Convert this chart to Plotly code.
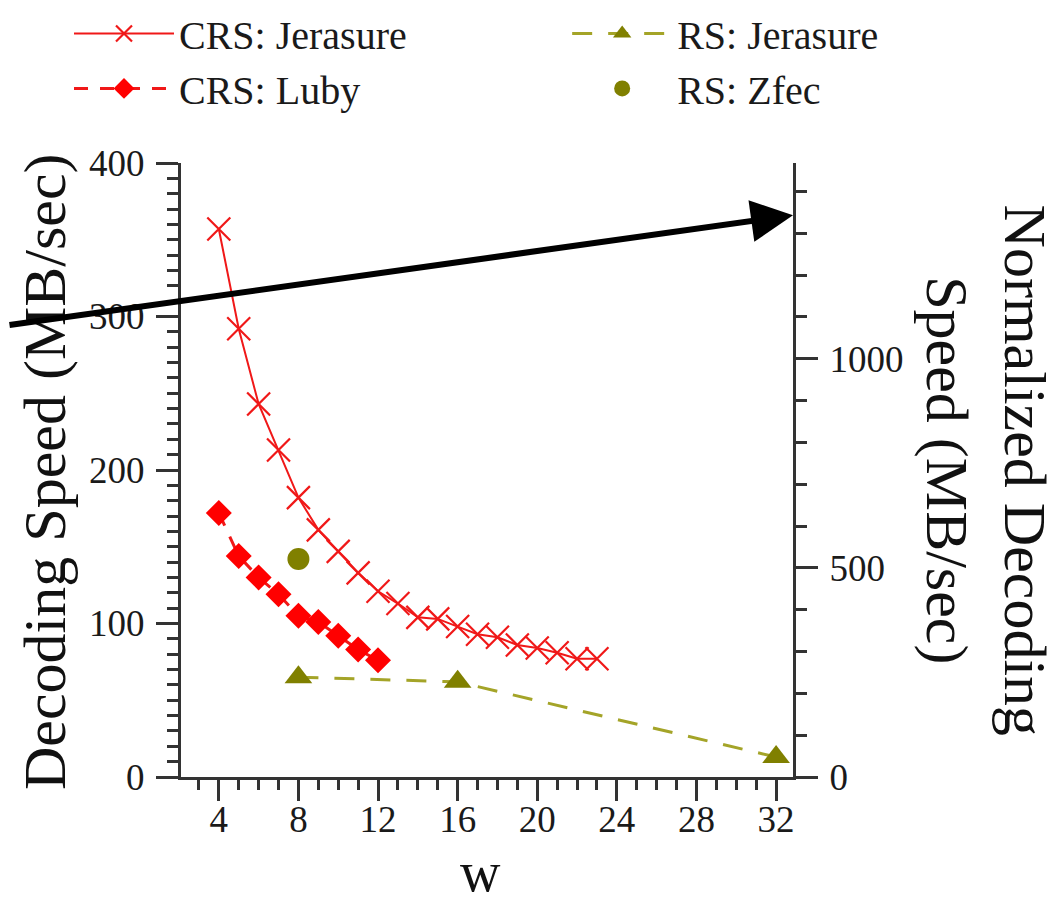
import plotly.graph_objects as go

# ---- data ----
w_crs_jer = [4, 5, 6, 7, 8, 9, 10, 11, 12, 13, 14, 15, 16, 17, 18, 19, 20, 21, 22, 23]
crs_jerasure = [357, 292, 243, 213, 182, 161, 147, 133, 121, 113, 104, 103, 98, 93, 91, 86, 84, 81, 77, 77]

w_crs_luby = [4, 5, 6, 7, 8, 9, 10, 11, 12]
crs_luby = [172, 144, 130, 119, 105, 101, 92, 83, 76]

w_rs_jer = [8, 16, 32]
rs_jerasure = [65, 62, 13]

w_rs_zfec = [8]
rs_zfec = [142]

x_ticks = [4, 8, 12, 16, 20, 24, 28, 32]
y_ticks = [0, 100, 200, 300, 400]
y2_ticks = [0, 500, 1000]

RED = "#f01818"
OLIVE = "#808000"
OLIVE_LINE = "#a4a428"
AX = "#333333"
FONT = "Liberation Serif"
TXT = "#1a1a1a"

fig = go.Figure()

fig.add_trace(go.Scatter(
    x=w_crs_jer, y=crs_jerasure, name="CRS: Jerasure", mode="lines+markers",
    line=dict(color=RED, width=2),
    marker=dict(symbol="x-thin-open", size=23, line=dict(color=RED, width=2.2), color=RED),
    legend="legend"))
fig.add_trace(go.Scatter(
    x=w_crs_luby, y=crs_luby, name="CRS: Luby", mode="lines+markers",
    line=dict(color=RED, width=3, dash="14px,12px"),
    marker=dict(symbol="diamond", size=20, color="#ff0000"),
    legend="legend"))
fig.add_trace(go.Scatter(
    x=w_rs_jer, y=rs_jerasure, name="RS: Jerasure", mode="lines+markers",
    line=dict(color=OLIVE_LINE, width=3, dash="20px,16px"),
    marker=dict(symbol="triangle-up", size=24, color=OLIVE),
    legend="legend2"))
fig.add_trace(go.Scatter(
    x=w_rs_zfec, y=rs_zfec, name="RS: Zfec", mode="markers",
    marker=dict(symbol="circle", size=22, color=OLIVE),
    legend="legend2"))
# empty trace so that the right-hand axis is drawn
fig.add_trace(go.Scatter(x=[], y=[], yaxis="y2", showlegend=False,
                         hoverinfo="skip", mode="markers"))

fig.update_layout(
    width=1057, height=908,
    margin=dict(l=173, r=272, t=155, b=139, autoexpand=False),
    paper_bgcolor="white", plot_bgcolor="white",
    font=dict(family=FONT, size=37, color=TXT),
    showlegend=True,
    legend=dict(x=-0.183, y=1.264, xref="paper", yref="paper",
                xanchor="left", yanchor="top", bgcolor="rgba(0,0,0,0)",
                font=dict(family=FONT, size=40, color=TXT),
                itemwidth=100, tracegroupgap=0),
    legend2=dict(x=0.631, y=1.264, xref="paper", yref="paper",
                 xanchor="left", yanchor="top", bgcolor="rgba(0,0,0,0)",
                 font=dict(family=FONT, size=40, color=TXT),
                 itemwidth=100, tracegroupgap=0),
    xaxis=dict(range=[2.1, 32.85], tickvals=x_ticks, ticks="outside", ticklen=21,
               tickwidth=3, tickcolor=AX, showline=True, linecolor=AX, linewidth=3,
               showgrid=False, zeroline=False, ticklabelstandoff=-13,
               tickfont=dict(family=FONT, size=37, color=TXT),
               minor=dict(dtick=1, tick0=0, ticks="outside", ticklen=10,
                          tickwidth=3, tickcolor=AX, showgrid=False)),
    yaxis=dict(range=[0, 400], tickvals=y_ticks, ticks="outside", ticklen=22,
               tickwidth=3, tickcolor=AX, showline=True, linecolor=AX, linewidth=3,
               showgrid=False, zeroline=False, ticklabelstandoff=4,
               tickfont=dict(family=FONT, size=37, color=TXT),
               minor=dict(dtick=10, tick0=0, ticks="outside", ticklen=11,
                          tickwidth=3, tickcolor=AX, showgrid=False)),
    yaxis2=dict(range=[0, 1468], tickvals=y2_ticks, overlaying="y", side="right",
                ticks="outside", ticklen=22, tickwidth=3, tickcolor=AX,
                showline=True, linecolor=AX, linewidth=3, showgrid=False,
                zeroline=False, ticklabelstandoff=4,
                tickfont=dict(family=FONT, size=37, color=TXT),
                minor=dict(dtick=100, tick0=0, ticks="outside", ticklen=11,
                           tickwidth=3, tickcolor=AX, showgrid=False)),
)

annotations = [
    dict(text="Decoding Speed (MB/sec)", xref="paper", yref="paper",
         x=-0.222, y=0.497, textangle=-90, showarrow=False,
         font=dict(family=FONT, size=60, color="#111111"),
         xanchor="center", yanchor="middle"),
    dict(text="Normalized Decoding<br>Speed (MB/sec)", xref="paper", yref="paper",
         x=1.316, y=0.5, textangle=90, showarrow=False,
         font=dict(family=FONT, size=60, color="#111111"),
         xanchor="center", yanchor="middle"),
    dict(text="w", xref="paper", yref="paper", x=0.4886, y=-0.209,
         showarrow=False, font=dict(family=FONT, size=56, color="#111111"),
         xanchor="center", yanchor="bottom"),
    dict(text="", x=32.85, y=366, xref="x", yref="y", showarrow=True,
         ax=-800, ay=110, axref="pixel", ayref="pixel",
         arrowhead=2, arrowsize=1.4, arrowwidth=6, arrowcolor="black", standoff=0),
]
fig.update_layout(annotations=annotations)

fig.write_html("out.html")
